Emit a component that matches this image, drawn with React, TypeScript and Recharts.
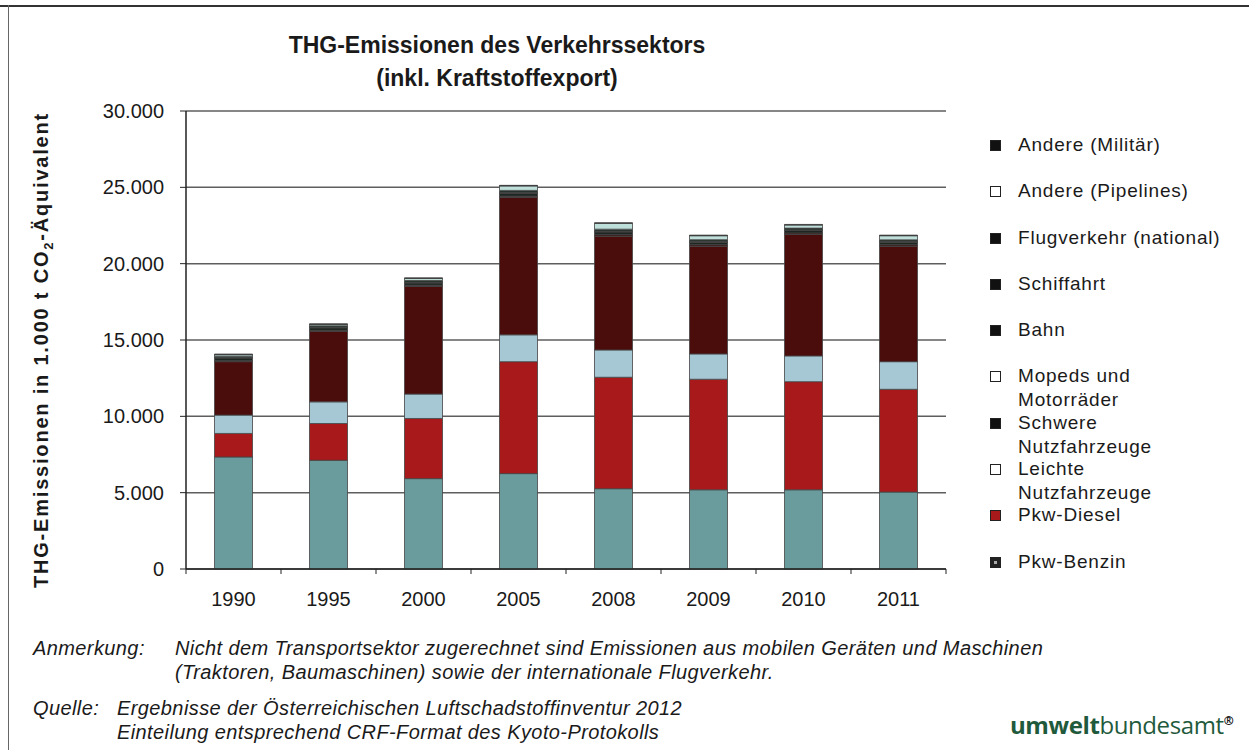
import React from "react";
import { BarChart, Bar, XAxis, YAxis, CartesianGrid } from "recharts";

const years = ["1990", "1995", "2000", "2005", "2008", "2009", "2010", "2011"];

// values in 1.000 t CO2-Äquivalent
const pkwBenzin = [7340, 7120, 5920, 6250, 5260, 5190, 5190, 5040];
const pkwDiesel = [1540, 2410, 3940, 7330, 7300, 7240, 7080, 6730];
const leichteNfz = [1200, 1420, 1600, 1760, 1790, 1660, 1690, 1810];
const schwereNfz = [3500, 4610, 7050, 8990, 7450, 7050, 7950, 7560];
const mopeds = [60, 70, 80, 90, 100, 100, 100, 100];
const bahn = [180, 170, 150, 180, 180, 170, 160, 170];
const schiffahrt = [40, 40, 40, 40, 40, 40, 40, 40];
const flugverkehr = [80, 90, 120, 160, 140, 120, 120, 110];
const pipelines = [100, 90, 130, 290, 380, 260, 200, 270];
const militaer = [40, 40, 40, 40, 40, 40, 40, 40];

const yTicks = [0, 5000, 10000, 15000, 20000, 25000, 30000];

// stack order bottom -> top, legend shows it reversed
const series = [
  { key: "benzin", name: "Pkw-Benzin", values: pkwBenzin, fill: "#6a9b9d", icon: "#222", pattern: true },
  { key: "diesel", name: "Pkw-Diesel", values: pkwDiesel, fill: "#a8191b", icon: "#a8191b" },
  { key: "leichte", name: "Leichte Nutzfahrzeuge", values: leichteNfz, fill: "#a6c8d4", icon: "#fff" },
  { key: "schwere", name: "Schwere Nutzfahrzeuge", values: schwereNfz, fill: "#4b0c0c", icon: "#111" },
  { key: "mopeds", name: "Mopeds und Motorräder", values: mopeds, fill: "#3a1010", icon: "#fff" },
  { key: "bahn", name: "Bahn", values: bahn, fill: "#1e2622", icon: "#111" },
  { key: "schiff", name: "Schiffahrt", values: schiffahrt, fill: "#2a2a2a", icon: "#111" },
  { key: "flug", name: "Flugverkehr (national)", values: flugverkehr, fill: "#26332c", icon: "#111" },
  { key: "pipe", name: "Andere (Pipelines)", values: pipelines, fill: "#bfe0da", icon: "#fff" },
  { key: "mil", name: "Andere (Militär)", values: militaer, fill: "#111111", icon: "#111" },
];

const legendLines: Record<string, string[]> = {
  mopeds: ["Mopeds und", "Motorräder"],
  schwere: ["Schwere", "Nutzfahrzeuge"],
  leichte: ["Leichte", "Nutzfahrzeuge"],
};

const data = years.map((year, i) => {
  const row: Record<string, string | number> = { year };
  series.forEach((s) => {
    row[s.key] = s.values[i];
  });
  return row;
});

const FONT = "Arial, 'Liberation Sans', sans-serif";
const TICK_SIZE = 6;
const TICK_MARGIN = 14;

const fmt = (v: number) => v.toLocaleString("de-DE");

const XTick = (props: any) => {
  const { x, y, payload, index, visibleTicksCount } = props;
  const off = payload?.offset ?? 0;
  const axisY = y - TICK_SIZE - TICK_MARGIN;
  return (
    <g>
      <line x1={x - off} x2={x - off} y1={axisY} y2={axisY + 5} stroke="#222" />
      {index === visibleTicksCount - 1 && (
        <line x1={x + off} x2={x + off} y1={axisY} y2={axisY + 5} stroke="#222" />
      )}
      <text x={x} y={y} dy="0.85em" textAnchor="middle" fontSize={20} fill="#1a1a1a" fontFamily={FONT}>
        {payload.value}
      </text>
    </g>
  );
};

const LegendBox = () => {
  const items = [...series].reverse();
  return (
    <div style={{ position: "absolute", left: 990, top: 133, fontFamily: FONT, fontSize: 19, letterSpacing: 0.8, color: "#1a1a1a" }}>
      {items.map((s) => (
        <div key={s.key} style={{ position: "relative", height: 46.3, width: 250 }}>
          <div
            style={{
              position: "absolute",
              left: 0,
              top: 7,
              width: 11,
              height: 11,
              background: s.icon,
              border: "1px solid #222",
              boxSizing: "border-box",
            }}
          >
            {s.pattern && (
              <div style={{ position: "absolute", left: 3, top: 3, width: 3, height: 3, background: "#aaa" }} />
            )}
          </div>
          <div style={{ position: "absolute", left: 28, top: 0, lineHeight: "24px", whiteSpace: "nowrap" }}>
            {(legendLines[s.key] ?? [s.name]).map((l) => (
              <div key={l}>{l}</div>
            ))}
          </div>
        </div>
      ))}
    </div>
  );
};

const txt = (extra: React.CSSProperties): React.CSSProperties => ({
  position: "absolute",
  fontFamily: FONT,
  color: "#1a1a1a",
  whiteSpace: "nowrap",
  ...extra,
});

const note = (left: number, top: number): React.CSSProperties =>
  txt({ left, top, fontSize: 20, fontStyle: "italic", letterSpacing: 0.4, lineHeight: "24px" });

export default function App() {
  return (
    <div style={{ position: "absolute", left: 0, top: 0, width: 1249, height: 750, background: "#fff", overflow: "hidden" }}>
      {/* scanned page frame */}
      <div style={{ position: "absolute", left: 0, top: 5, width: 1249, height: 2, background: "#333" }} />
      <div style={{ position: "absolute", left: 8, top: 5, width: 1, height: 745, background: "#666" }} />

      <div style={txt({ left: 0, width: 994, top: 29, textAlign: "center", fontSize: 23, fontWeight: "bold", lineHeight: "33px" })}>
        THG-Emissionen des Verkehrssektors
        <br />
        (inkl. Kraftstoffexport)
      </div>

      <div
        style={txt({
          left: 43,
          top: 350,
          fontSize: 20,
          fontWeight: "bold",
          letterSpacing: 1.8,
          transform: "translate(-50%, -50%) rotate(-90deg)",
        })}
      >
        THG-Emissionen in 1.000 t CO<sub style={{ fontSize: 13 }}>2</sub>-Äquivalent
      </div>

      <div style={{ position: "absolute", left: 0, top: 0 }}>
        <BarChart
          width={1249}
          height={750}
          data={data}
          barCategoryGap="30%"
          margin={{ top: 111, right: 303, bottom: 141, left: 66 }}
        >
          <CartesianGrid vertical={false} stroke="#5e5e5e" strokeWidth={1.5} />
          <XAxis
            dataKey="year"
            height={40}
            tickSize={TICK_SIZE}
            tickMargin={TICK_MARGIN}
            tickLine={false}
            axisLine={{ stroke: "#222", strokeWidth: 1.5 }}
            tick={<XTick />}
            interval={0}
          />
          <YAxis
            width={120}
            domain={[0, 30000]}
            ticks={yTicks}
            tickFormatter={fmt}
            tickSize={TICK_SIZE}
            tickMargin={16}
            tick={{ fontSize: 20, fill: "#1a1a1a", fontFamily: FONT }}
            tickLine={{ stroke: "#222" }}
            axisLine={{ stroke: "#222", strokeWidth: 1.5 }}
          />
          <YAxis
            yAxisId="frame"
            orientation="right"
            width={0}
            tick={false}
            tickLine={false}
            axisLine={{ stroke: "#333", strokeWidth: 1.5 }}
          />
          {series.map((s) => (
            <Bar
              key={s.key}
              dataKey={s.key}
              name={s.name}
              stackId="a"
              fill={s.fill}
              stroke="#444"
              strokeWidth={0.8}
              isAnimationActive={false}
            />
          ))}
        </BarChart>
      </div>

      <LegendBox />

      <div style={note(33, 636)}>Anmerkung:</div>
      <div style={note(175, 636)}>
        Nicht dem Transportsektor zugerechnet sind Emissionen aus mobilen Geräten und Maschinen
        <br />
        (Traktoren, Baumaschinen) sowie der internationale Flugverkehr.
      </div>
      <div style={note(33, 696)}>Quelle:</div>
      <div style={note(117, 696)}>
        Ergebnisse der Österreichischen Luftschadstoffinventur 2012
        <br />
        Einteilung entsprechend CRF-Format des Kyoto-Protokolls
      </div>

      <div style={txt({ left: 1010, top: 704, fontSize: 24, lineHeight: "34px", color: "#1f5a3c", fontFamily: "'Open Sans', sans-serif", letterSpacing: -0.4 })}>
        <span style={{ fontWeight: "bold" }}>umwelt</span>bundesamt
        <sup style={{ fontSize: 12, fontWeight: "bold", color: "#111" }}>®</sup>
      </div>
    </div>
  );
}
